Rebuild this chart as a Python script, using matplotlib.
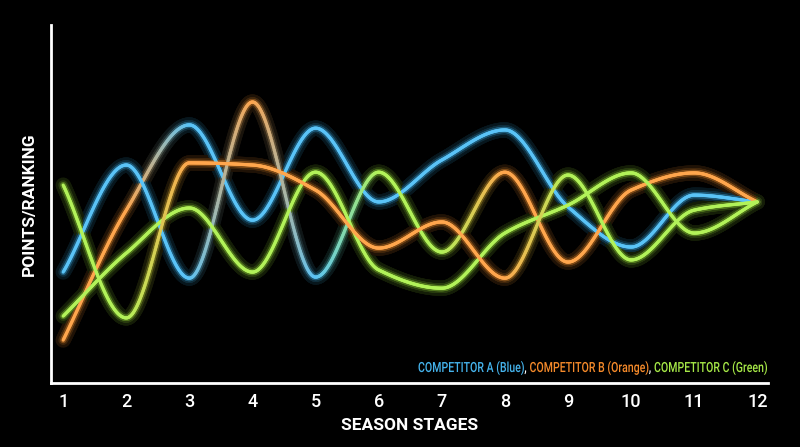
import numpy as np
import matplotlib
matplotlib.use('Agg')
import matplotlib.pyplot as plt
from matplotlib.collections import LineCollection
from matplotlib.colors import to_rgb
from matplotlib.textpath import TextPath
from matplotlib.patches import PathPatch
from matplotlib.font_manager import FontProperties
from matplotlib.transforms import Affine2D

# season stages and the four traced curves
stages = np.arange(1, 13)
stage_labels = [str(s) for s in stages]

line_a = [12.0, 48.3, 72.1, 45.5, 71.2, 50.6, 62.3, 70.7, 49.2, 38.0, 52.5, 50.6]
line_b = [31.0, 60.9, 29.3, 78.5, 29.6, 58.9, 36.6, 58.9, 33.8, 53.9, 58.7, 50.6]
line_c = [18.7, 36.3, 48.9, 31.0, 58.9, 31.6, 26.5, 41.9, 49.7, 58.7, 41.9, 50.6]
line_d = [55.3, 18.2, 61.5, 60.9, 53.9, 37.7, 45.0, 29.3, 58.1, 34.4, 48.3, 50.6]

# which competitor colour each curve shows at each stage
hue_a = 'oobbbbbbbbbb'
hue_b = 'bbbobggooooo'
hue_c = 'gggggggggggg'
hue_d = 'ggoooooogggg'

legend_names = ['COMPETITOR A (Blue)', 'COMPETITOR B (Orange)', 'COMPETITOR C (Green)']

palette = {'b': '#3db8f5', 'o': '#ff962e', 'g': '#a4f03c'}
legend_colors = ['#45b3ec', '#f58a2a', '#a6e847']


def pchip(x, y, xs):
    x = np.asarray(x, float)
    y = np.asarray(y, float)
    h = np.diff(x)
    d = np.diff(y) / h
    n = len(x)
    m = np.zeros(n)
    for k in range(1, n - 1):
        if d[k - 1] * d[k] > 0:
            w1 = 2 * h[k] + h[k - 1]
            w2 = h[k] + 2 * h[k - 1]
            m[k] = (w1 + w2) / (w1 / d[k - 1] + w2 / d[k])
    m[0] = d[0]
    m[-1] = d[-1]
    idx = np.clip(np.searchsorted(x, xs) - 1, 0, n - 2)
    t = (xs - x[idx]) / h[idx]
    h00 = 2 * t**3 - 3 * t**2 + 1
    h10 = t**3 - 2 * t**2 + t
    h01 = -2 * t**3 + 3 * t**2
    h11 = t**3 - t**2
    return h00 * y[idx] + h10 * h[idx] * m[idx] + h01 * y[idx + 1] + h11 * h[idx] * m[idx + 1]


def curve_segments(xs, ys, codes):
    xf = np.linspace(xs[0], xs[-1], 800)
    yf = pchip(xs, ys, xf)
    rgb = np.array([to_rgb(palette[c]) for c in codes])
    cols = np.column_stack([np.interp(xf, xs, rgb[:, i]) for i in range(3)])
    pts = np.column_stack([xf, yf]).reshape(-1, 1, 2)
    segs = np.concatenate([pts[:-1], pts[1:]], axis=1)
    return segs, (cols[:-1] + cols[1:]) / 2


fig = plt.figure(figsize=(8, 4.47), dpi=100, facecolor='black')
ax = fig.add_axes([0.064, 0.143, 0.896, 0.801], facecolor='black')

curves = [(line_a, hue_a), (line_b, hue_b), (line_c, hue_c), (line_d, hue_d)]
built = [curve_segments(stages, v, h) for v, h in curves]

# glow layers first, then the bright cores
for lw, k in [(11, 0.12), (7, 0.25), (4.5, 0.5)]:
    for segs, cols in built:
        ax.add_collection(LineCollection(segs, colors=np.clip(cols * k, 0, 1),
                                         linewidths=lw, capstyle='round'))
for segs, cols in built:
    ax.add_collection(LineCollection(segs, colors=np.clip(cols * 0.85 + 0.15, 0, 1),
                                     linewidths=2.3, capstyle='round'))

ax.set_xlim(0.81, 12.17)
ax.set_ylim(0, 100)
ax.set_xticks(stages)
ax.set_xticklabels(stage_labels, color='white', fontsize=13, family=['Roboto', 'DejaVu Sans'],
                   fontweight='medium')
ax.set_yticks([])
ax.tick_params(axis='x', length=0, pad=7)
for side in ['top', 'right']:
    ax.spines[side].set_visible(False)
for side in ['left', 'bottom']:
    ax.spines[side].set_color('white')
    ax.spines[side].set_linewidth(2)

ax.set_xlabel('SEASON STAGES', color='white', fontsize=12.5, fontweight='bold',
              family=['Roboto', 'DejaVu Sans'], labelpad=5)
ax.set_ylabel('POINTS/RANKING', color='white', fontsize=12.5, fontweight='bold',
              family=['Roboto', 'DejaVu Sans'], labelpad=10)

# coloured legend line, drawn as condensed text paths (pixel coords)
prop = FontProperties(family='Roboto', weight='medium')
size_px = 14
pieces = []
for i, (name, col) in enumerate(zip(legend_names, legend_colors)):
    pieces.append((name, col))
    if i < len(legend_names) - 1:
        pieces.append((',', 'white'))

paths = []
cursor = 0.0
for text, col in pieces:
    p = TextPath((cursor, 0), text, size=size_px, prop=prop)
    paths.append((p, col))
    cursor = p.get_extents().x1 + (size_px * 0.32 if text == ',' else size_px * 0.04)
natural_w = paths[-1][0].get_extents().x1
left_px, right_px, base_px = 418, 767, 75
sx = (right_px - left_px) / natural_w
trans = Affine2D().scale(sx, 1).translate(left_px, base_px)
for p, col in paths:
    fig.add_artist(PathPatch(p, facecolor=col, edgecolor='none', transform=trans))

plt.savefig('out.png', dpi=100, facecolor='black')
